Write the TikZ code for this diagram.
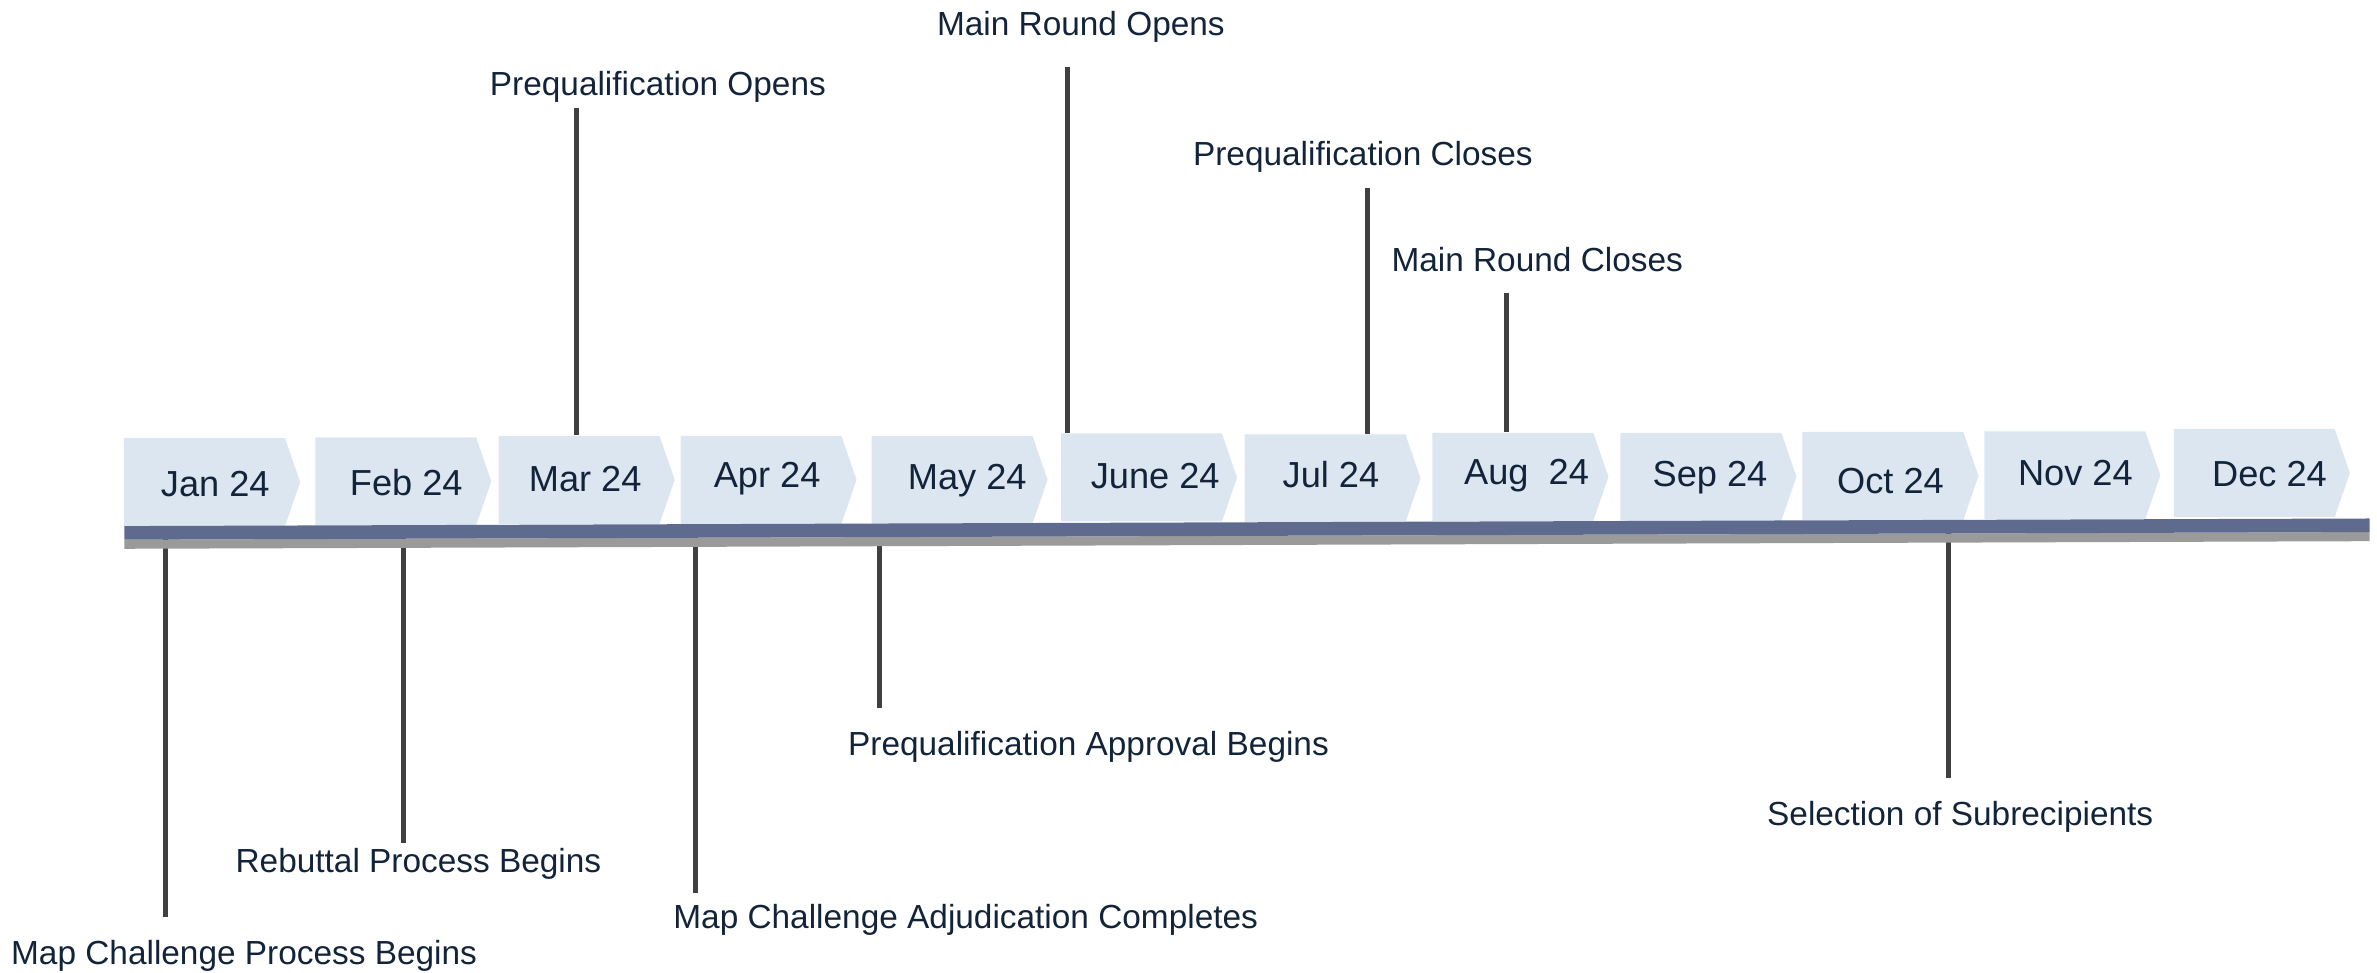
\documentclass[tikz,border=0pt]{standalone}
\usepackage{fontspec}
\setmainfont{Liberation Sans}
\usetikzlibrary{shapes.symbols}

\definecolor{tagblue}{HTML}{DCE6F1}
\definecolor{barblue}{HTML}{5E6B8E}
\definecolor{bargray}{HTML}{9A9A9A}
\definecolor{inknavy}{HTML}{13243A}
\definecolor{tickgray}{HTML}{404040}

\tikzset{
	monthtag/.style = {signal, signal to = east, signal pointer angle = 142, fill = tagblue, draw = none,
		minimum width = 1.76cm, minimum height = 0.88cm, inner sep = 0pt},
	monthtext/.style = {font = \fontsize{10.3}{12}\selectfont, text = inknavy, inner sep = 0pt},
	eventlabel/.style = {font = \fontsize{9.5}{11}\selectfont, text = inknavy, inner sep = 0pt},
	eventtick/.style = {draw = tickgray, line width = 0.05cm}
}

\begin{document}
\begin{tikzpicture}

	\useasboundingbox (0, 0) rectangle (23.77, 9.73);

	% Month tags (tag centre, then text centre)

	\foreach \name/\lab/\x/\y/\tx/\ty in {jan/Jan 24/2.122/4.909/2.153/4.894, feb/Feb 24/4.033/4.917/4.063/4.909,
		mar/Mar 24/5.867/4.932/5.852/4.939, apr/Apr 24/7.686/4.932/7.671/4.939,
		may/May 24/9.596/4.932/9.672/4.924, jun/June 24/11.491/4.955/11.552/4.970,
		jul/Jul 24/13.326/4.947/13.310/4.985, aug/Aug\ \ 24/15.205/4.962/15.266/4.970,
		sep/Sep 24/17.085/4.962/17.100/4.955, oct/Oct 24/18.905/4.970/18.905/4.924,
		nov/Nov 24/20.724/4.977/20.754/5.000, dec/Dec 24/22.619/5.000/22.695/4.985}
	{
		\node [monthtag] (\name) at (\x - 0.076, \y) {};
		\node [monthtext] (\name text) at (\tx, \ty) {\lab};
	}

	% Free ends of the ticks

	\coordinate (pqo tick) at (5.761, 8.654);
	\coordinate (mro tick) at (10.673, 9.063);
	\coordinate (pqc tick) at (13.674, 7.850);
	\coordinate (mrc tick) at (15.069, 6.804);

	\coordinate (mcpb tick) at (1.652, 0.558);
	\coordinate (rpb tick) at (4.033, 1.301);
	\coordinate (mcac tick) at (6.958, 0.801);
	\coordinate (pab tick) at (8.793, 2.650);
	\coordinate (sos tick) at (19.481, 1.953);

	% Ticks above the line

	\draw [eventtick] (pqo tick) -- (pqo tick |- mar.north);
	\draw [eventtick] (mro tick) -- (mro tick |- jun.north);
	\draw [eventtick] (pqc tick) -- (pqc tick |- jul.north);
	\draw [eventtick] (mrc tick) -- (mrc tick |- aug.north);

	% Ticks below the line

	\draw [eventtick] (mcpb tick) -- (mcpb tick |- jan.south);
	\draw [eventtick] (rpb tick) -- (rpb tick |- feb.south);
	\draw [eventtick] (mcac tick) -- (mcac tick |- apr.south);
	\draw [eventtick] (pab tick) -- (pab tick |- may.south);
	\draw [eventtick] (sos tick) -- (sos tick |- oct.south);

	% The time line

	\draw [fill = bargray, draw = none] (1.243, 4.333) -- (23.695, 4.409) -- (23.695, 4.318) -- (1.243, 4.242) -- cycle;
	\draw [fill = barblue, draw = none] (1.243, 4.469) -- (23.695, 4.545) -- (23.695, 4.409) -- (1.243, 4.333) -- cycle;

	% Event labels

	\node [eventlabel] (pqo) at (6.579, 8.866) {Prequalification Opens};
	\node [eventlabel] (mro) at (10.809, 9.457) {Main Round Opens};
	\node [eventlabel] (pqc) at (13.629, 8.159) {Prequalification Closes};
	\node [eventlabel] (mrc) at (15.372, 7.138) {Main Round Closes};

	\node [eventlabel] (mcpb) at (2.441, 0.174) {Map Challenge Process Begins};
	\node [eventlabel] (rpb) at (4.184, 1.089) {Rebuttal Process Begins};
	\node [eventlabel] (mcac) at (9.657, 0.528) {Map Challenge Adjudication Completes};
	\node [eventlabel] (pab) at (10.885, 2.257) {Prequalification Approval Begins};
	\node [eventlabel] (sos) at (19.602, 1.559) {Selection of Subrecipients};

\end{tikzpicture}
\end{document}
